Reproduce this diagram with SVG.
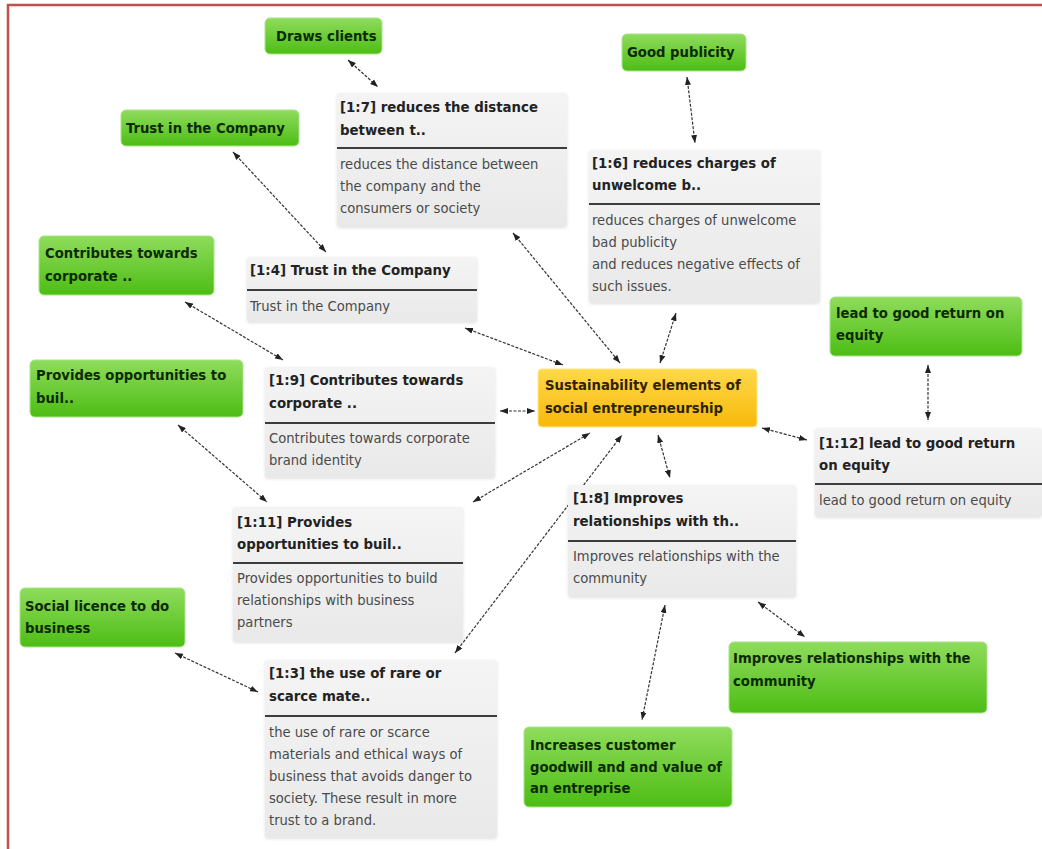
<svg xmlns="http://www.w3.org/2000/svg" width="1042" height="849" viewBox="0 0 1042 849">
<style>
.frame{stroke:#c0504d;stroke-width:2.5;fill:none}
.gbox{fill:url(#gGreen);stroke:#a9e38c;stroke-width:1}
.gt{font-family:"DejaVu Sans Condensed","DejaVu Sans",sans-serif;font-weight:bold;font-size:14.7px;fill:#0d2a02}
.cbox{fill:url(#gYellow);stroke:#ffe680;stroke-width:1}
.ct{font-family:"DejaVu Sans Condensed","DejaVu Sans",sans-serif;font-weight:bold;font-size:14.7px;fill:#2e2300}
.qbox{fill:url(#gGray);filter:url(#sh)}
.sep{stroke:#3c3c3c;stroke-width:2}
.qh{font-family:"DejaVu Sans Condensed","DejaVu Sans",sans-serif;font-weight:bold;font-size:14.8px;fill:#222}
.qb{font-family:"DejaVu Sans Condensed","DejaVu Sans",sans-serif;font-size:14.6px;fill:#4a4a4a}
.cn{stroke:#333;stroke-width:1.2;fill:none;stroke-dasharray:3 1.5;marker-start:url(#ah);marker-end:url(#ah)}
</style>
<defs>
<linearGradient id="gGreen" x1="0" y1="0" x2="0" y2="1">
<stop offset="0" stop-color="#8fdc5c"/>
<stop offset="1" stop-color="#4dbd14"/>
</linearGradient>
<linearGradient id="gYellow" x1="0" y1="0" x2="0" y2="1">
<stop offset="0" stop-color="#ffd84a"/>
<stop offset="1" stop-color="#f7b90a"/>
</linearGradient>
<linearGradient id="gGray" x1="0" y1="0" x2="0" y2="1">
<stop offset="0" stop-color="#f4f4f4"/>
<stop offset="1" stop-color="#e9e9e9"/>
</linearGradient>
<filter id="sh" x="-5%" y="-5%" width="110%" height="110%">
<feDropShadow dx="0" dy="1" stdDeviation="1.5" flood-color="#000" flood-opacity="0.12"/>
</filter>
<marker id="ah" viewBox="0 0 8 6" refX="8" refY="3" markerWidth="8" markerHeight="6" markerUnits="userSpaceOnUse" orient="auto-start-reverse">
<path d="M0,0 L8,3 L0,6 z" fill="#222"/>
</marker>
</defs>
<rect x="0" y="0" width="1042" height="849" fill="#ffffff"/>
<line class="frame" x1="7" y1="5" x2="1042" y2="5"/>
<line class="frame" x1="8" y1="4" x2="8" y2="849"/>

<g id="connectors">
<line class="cn" x1="348" y1="60" x2="378" y2="87"/>
<line class="cn" x1="233" y1="152" x2="326" y2="252"/>
<line class="cn" x1="687" y1="77" x2="695" y2="143"/>
<line class="cn" x1="513" y1="233" x2="620" y2="363"/>
<line class="cn" x1="676" y1="313" x2="660" y2="363"/>
<line class="cn" x1="465" y1="328" x2="563" y2="365"/>
<line class="cn" x1="500" y1="411" x2="535" y2="411"/>
<line class="cn" x1="185" y1="302" x2="283" y2="360"/>
<line class="cn" x1="178" y1="425" x2="267" y2="502"/>
<line class="cn" x1="473" y1="502" x2="590" y2="433"/>
<line class="cn" x1="455" y1="653" x2="622" y2="435"/>
<line class="cn" x1="658" y1="435" x2="670" y2="478"/>
<line class="cn" x1="762" y1="428" x2="807" y2="440"/>
<line class="cn" x1="928" y1="365" x2="928" y2="420"/>
<line class="cn" x1="175" y1="653" x2="258" y2="692"/>
<line class="cn" x1="665" y1="605" x2="642" y2="720"/>
<line class="cn" x1="758" y1="602" x2="805" y2="637"/>
</g>

<g id="center">
<rect class="cbox" x="538" y="369" width="219" height="58" rx="4"/>
<text class="ct" x="545" y="390">Sustainability elements of</text>
<text class="ct" x="545" y="413">social entrepreneurship</text>
</g>

<g id="q1_7">
<rect class="qbox" x="337" y="93" width="230" height="134" rx="3"/>
<line class="sep" x1="337" y1="148" x2="567" y2="148"/>
<text class="qh" x="340" y="112">[1:7] reduces the distance</text>
<text class="qh" x="340" y="135">between t..</text>
<text class="qb" x="340" y="169">reduces the distance between</text>
<text class="qb" x="340" y="191">the company and the</text>
<text class="qb" x="340" y="213">consumers or society</text>
</g>

<g id="q1_6">
<rect class="qbox" x="589" y="150" width="231" height="153" rx="3"/>
<line class="sep" x1="589" y1="204" x2="820" y2="204"/>
<text class="qh" x="592" y="168">[1:6] reduces charges of</text>
<text class="qh" x="592" y="190">unwelcome b..</text>
<text class="qb" x="592" y="225">reduces charges of unwelcome</text>
<text class="qb" x="592" y="247">bad publicity</text>
<text class="qb" x="592" y="269">and reduces negative effects of</text>
<text class="qb" x="592" y="291">such issues.</text>
</g>

<g id="q1_4">
<rect class="qbox" x="247" y="257" width="230" height="65" rx="3"/>
<line class="sep" x1="247" y1="290" x2="477" y2="290"/>
<text class="qh" x="250" y="275">[1:4] Trust in the Company</text>
<text class="qb" x="250" y="311">Trust in the Company</text>
</g>

<g id="q1_9">
<rect class="qbox" x="265" y="367" width="230" height="111" rx="3"/>
<line class="sep" x1="265" y1="423" x2="495" y2="423"/>
<text class="qh" x="269" y="385">[1:9] Contributes towards</text>
<text class="qh" x="269" y="408">corporate ..</text>
<text class="qb" x="269" y="443">Contributes towards corporate</text>
<text class="qb" x="269" y="465">brand identity</text>
</g>

<g id="q1_11">
<rect class="qbox" x="233" y="507" width="230" height="135" rx="3"/>
<line class="sep" x1="233" y1="563" x2="463" y2="563"/>
<text class="qh" x="237" y="527">[1:11] Provides</text>
<text class="qh" x="237" y="549">opportunities to buil..</text>
<text class="qb" x="237" y="583">Provides opportunities to build</text>
<text class="qb" x="237" y="605">relationships with business</text>
<text class="qb" x="237" y="627">partners</text>
</g>

<g id="q1_3">
<rect class="qbox" x="265" y="660" width="232" height="178" rx="3"/>
<line class="sep" x1="265" y1="716" x2="497" y2="716"/>
<text class="qh" x="269" y="678">[1:3] the use of rare or</text>
<text class="qh" x="269" y="701">scarce mate..</text>
<text class="qb" x="269" y="737">the use of rare or scarce</text>
<text class="qb" x="269" y="759">materials and ethical ways of</text>
<text class="qb" x="269" y="781">business that avoids danger to</text>
<text class="qb" x="269" y="803">society. These result in more</text>
<text class="qb" x="269" y="825">trust to a brand.</text>
</g>

<g id="q1_12">
<rect class="qbox" x="815" y="428" width="227" height="89" rx="3"/>
<line class="sep" x1="815" y1="484" x2="1042" y2="484"/>
<text class="qh" x="819" y="448">[1:12] lead to good return</text>
<text class="qh" x="819" y="470">on equity</text>
<text class="qb" x="819" y="505">lead to good return on equity</text>
</g>

<g id="q1_8">
<rect class="qbox" x="568" y="485" width="228" height="112" rx="3"/>
<line class="sep" x1="568" y1="541" x2="796" y2="541"/>
<text class="qh" x="573" y="503">[1:8] Improves</text>
<text class="qh" x="573" y="526">relationships with th..</text>
<text class="qb" x="573" y="561">Improves relationships with the</text>
<text class="qb" x="573" y="583">community</text>
</g>

<g id="c_draws">
<rect class="gbox" x="265" y="18" width="117" height="36" rx="5"/>
<text class="gt" x="276" y="41">Draws clients</text>
</g>
<g id="c_trust">
<rect class="gbox" x="121" y="110" width="178" height="36" rx="5"/>
<text class="gt" x="126" y="133">Trust in the Company</text>
</g>
<g id="c_contrib">
<rect class="gbox" x="39" y="236" width="175" height="59" rx="5"/>
<text class="gt" x="45" y="258">Contributes towards</text>
<text class="gt" x="45" y="281">corporate ..</text>
</g>
<g id="c_provides">
<rect class="gbox" x="30" y="360" width="213" height="57" rx="5"/>
<text class="gt" x="36" y="380">Provides opportunities to</text>
<text class="gt" x="36" y="403">buil..</text>
</g>
<g id="c_social">
<rect class="gbox" x="20" y="588" width="165" height="59" rx="5"/>
<text class="gt" x="25" y="611">Social licence to do</text>
<text class="gt" x="25" y="633">business</text>
</g>
<g id="c_good">
<rect class="gbox" x="622" y="34" width="124" height="37" rx="5"/>
<text class="gt" x="627" y="57">Good publicity</text>
</g>
<g id="c_lead">
<rect class="gbox" x="830" y="297" width="192" height="59" rx="5"/>
<text class="gt" x="836" y="318">lead to good return on</text>
<text class="gt" x="836" y="340">equity</text>
</g>
<g id="c_improves">
<rect class="gbox" x="729" y="642" width="258" height="71" rx="5"/>
<text class="gt" x="733" y="663">Improves relationships with the</text>
<text class="gt" x="733" y="686">community</text>
</g>
<g id="c_increases">
<rect class="gbox" x="524" y="727" width="208" height="80" rx="5"/>
<text class="gt" x="530" y="750">Increases customer</text>
<text class="gt" x="530" y="772">goodwill and and value of</text>
<text class="gt" x="530" y="793">an entreprise</text>
</g>
</svg>
